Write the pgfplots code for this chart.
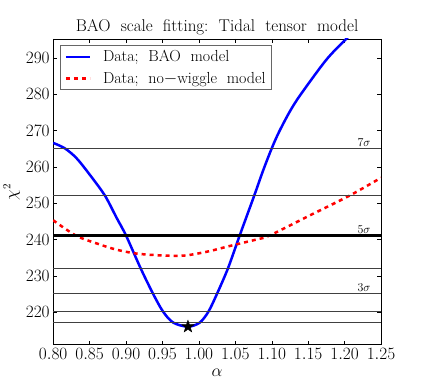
\documentclass[border=0pt]{standalone}
\usepackage{pgfplots}
\pgfplotsset{compat=1.18}

% filled five-point star, like the best-fit marker
\pgfdeclareplotmark{fstar}{%
  \pgfpathmoveto{\pgfpointpolar{90}{\pgfplotmarksize}}%
  \pgfpathlineto{\pgfpointpolar{126}{0.4\pgfplotmarksize}}%
  \pgfpathlineto{\pgfpointpolar{162}{\pgfplotmarksize}}%
  \pgfpathlineto{\pgfpointpolar{198}{0.4\pgfplotmarksize}}%
  \pgfpathlineto{\pgfpointpolar{234}{\pgfplotmarksize}}%
  \pgfpathlineto{\pgfpointpolar{270}{0.4\pgfplotmarksize}}%
  \pgfpathlineto{\pgfpointpolar{306}{\pgfplotmarksize}}%
  \pgfpathlineto{\pgfpointpolar{342}{0.4\pgfplotmarksize}}%
  \pgfpathlineto{\pgfpointpolar{18}{\pgfplotmarksize}}%
  \pgfpathlineto{\pgfpointpolar{54}{0.4\pgfplotmarksize}}%
  \pgfpathclose
  \pgfusepathqfillstroke}

\begin{document}
\begin{tikzpicture}
\begin{axis}[
  width=328pt, height=306pt, scale only axis,
  xmin=0.8, xmax=1.25, ymin=211, ymax=295.2,
  xtick={0.8,0.85,0.9,0.95,1.0,1.05,1.1,1.15,1.2,1.25},
  ytick={220,230,240,250,260,270,280,290},
  scaled x ticks=false,
  xticklabel style={/pgf/number format/.cd, fixed, fixed zerofill, precision=2},
  tick label style={font=\fontsize{16}{18}\selectfont},
  tick style={black, thin},
  major tick length=4pt,
  axis line style={black, line width=0.8pt},
  title={BAO\ \ scale\ \ fitting:\ \ Tidal\ \ tensor\ \ model},
  title style={font=\fontsize{17}{19}\selectfont, yshift=-6pt},
  xlabel={$\alpha$},
  ylabel={$\chi^2$},
  label style={font=\fontsize{16}{18}\selectfont},
  xlabel style={yshift=-3pt},
  ylabel style={yshift=-1pt},
  legend style={at={(0,1)}, anchor=north west, xshift=7pt, yshift=-6pt,
    draw=black!60, thick,
    font=\fontsize{16}{18}\selectfont, row sep=5pt, inner xsep=4pt, inner ysep=3pt,
    /tikz/every odd column/.append style={column sep=10pt}},
  legend cell align=left,
  legend image code/.code={\draw[#1] (0pt,0pt) -- (24pt,0pt);},
]
\addplot[blue, line width=2.5pt, smooth] coordinates {
  (0.800,266.6) (0.816,265.1) (0.832,262.4) (0.850,257.9) (0.871,252.1)
  (0.887,246.0) (0.900,241.1) (0.920,232.1) (0.937,225.1) (0.951,220.1)
  (0.965,217.1) (0.985,216.0) (1.001,217.1) (1.013,220.1) (1.025,225.1)
  (1.040,232.1) (1.056,241.1) (1.076,252.1) (1.088,258.9) (1.100,265.1)
  (1.110,269.6) (1.125,275.3) (1.140,280.0) (1.175,289.5) (1.2025,295.3)
  (1.215,297.8)};
\addlegendentry{Data;\ \ BAO\ \ model}
\addplot[red, line width=2.5pt, dash pattern=on 4pt off 4pt, smooth] coordinates {
  (0.800,245.3) (0.831,241.1) (0.860,238.9) (0.887,237.2) (0.920,236.0)
  (0.974,235.5) (1.010,236.6) (1.042,238.2) (1.079,240.0) (1.097,241.1)
  (1.152,246.6) (1.207,252.1) (1.250,257.0)};
\addlegendentry{Data;\ \ no$-$wiggle\ \ model}

% Delta chi^2 = n^2 levels above the minimum
\pgfplotsset{every axis plot/.append style={forget plot}}
\addplot[black!75, line width=0.7pt] coordinates {(0.8,217.1) (1.25,217.1)};
\addplot[black!75, line width=0.7pt] coordinates {(0.8,220.1) (1.25,220.1)};
\addplot[black!75, line width=0.7pt] coordinates {(0.8,225.1) (1.25,225.1)};
\addplot[black!75, line width=0.7pt] coordinates {(0.8,232.1) (1.25,232.1)};
\addplot[black, line width=2.2pt] coordinates {(0.8,241.1) (1.25,241.1)};
\addplot[black!75, line width=0.7pt] coordinates {(0.8,252.1) (1.25,252.1)};
\addplot[black!75, line width=0.7pt] coordinates {(0.8,265.1) (1.25,265.1)};

\addplot[only marks, mark=fstar, mark size=6.5pt, black] coordinates {(0.985,216.0)};

\node[anchor=south east, font=\fontsize{13}{15}\selectfont, inner sep=1.5pt] at (axis cs:1.238,265.1) {$7\sigma$};
\node[anchor=south east, font=\fontsize{13}{15}\selectfont, inner sep=1.5pt] at (axis cs:1.238,241.1) {$5\sigma$};
\node[anchor=south east, font=\fontsize{13}{15}\selectfont, inner sep=1.5pt] at (axis cs:1.238,225.1) {$3\sigma$};
\end{axis}
\path (current axis.south west) ++(-53pt,-39pt) rectangle ++(424pt,384pt);
\end{tikzpicture}
\end{document}
